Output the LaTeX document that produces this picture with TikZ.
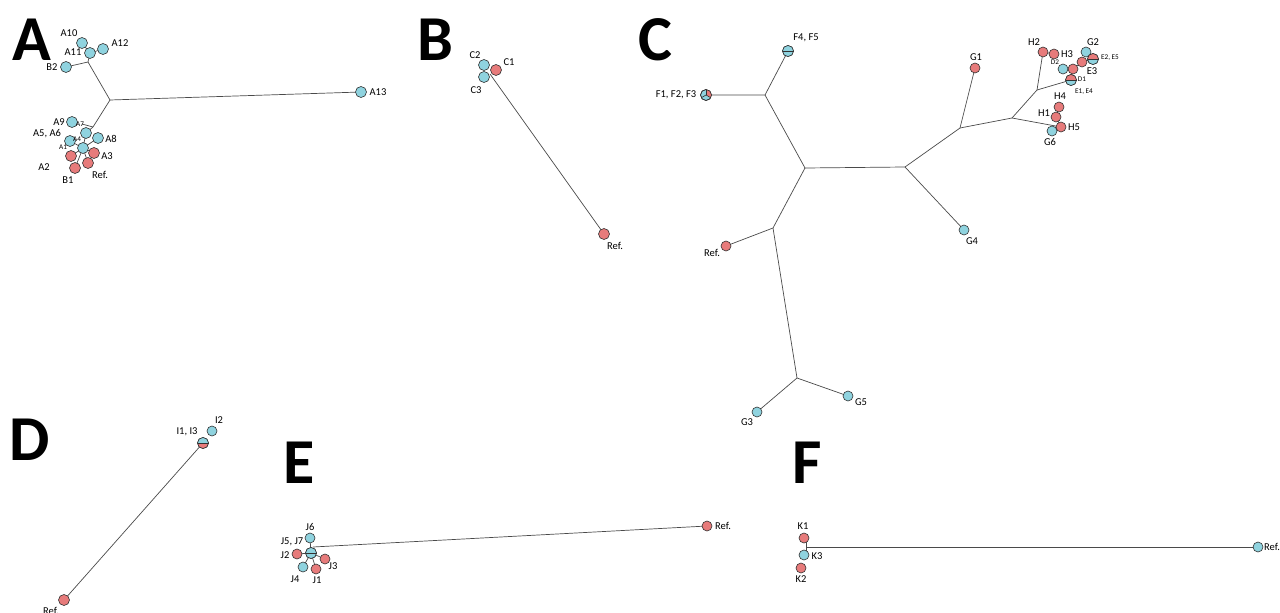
\documentclass[tikz,border=0pt]{standalone}
\usepackage{fontspec}
\setmainfont{Carlito}
\usetikzlibrary{backgrounds,calc}
\definecolor{nblue}{HTML}{8FD3DF}
\definecolor{nred}{HTML}{E77B7B}
\definecolor{edgec}{HTML}{4A4A4A}
\tikzset{
  bnode/.style={circle,draw=black!80,line width=0.6pt,fill=nblue,minimum size=11pt,inner sep=0pt},
  rnode/.style={bnode,fill=nred},
  snode/.style={bnode,minimum size=10pt},
  srnode/.style={rnode,minimum size=10pt},
  lbl/.style={font=\fontsize{10.5}{11}\selectfont,inner sep=0pt},
  slbl/.style={font=\fontsize{7.2}{8}\selectfont,inner sep=0pt},
  panel/.style={font=\fontsize{64}{64}\selectfont\bfseries,inner sep=0pt},
  edge/.style={draw=edgec,line width=0.7pt}
}
\newcommand{\halfsplit}[4]{% name, top colour, bottom colour, radius
  \begin{scope}
    \clip (#1) circle[radius=#4];
    \fill[#2] ($(#1)+(-8,-8)$) rectangle ($(#1)+(8,0)$);
    \fill[#3] ($(#1)+(-8,0)$) rectangle ($(#1)+(8,8)$);
  \end{scope}
  \draw[black!80,line width=0.6pt] ($(#1)+(-#4,0)$) -- ($(#1)+(#4,0)$);
  \draw[black!80,line width=0.6pt] (#1) circle[radius=#4];
}
\begin{document}
\begin{tikzpicture}[x=1pt,y=-1pt]
\useasboundingbox (0,0) rectangle (1280,613);
\begin{scope}[on background layer]
\fill[white] (0,0) rectangle (1280,613);
\end{scope}

% ---------- panel letters
\node[panel] (pA) at (32,40) {A};
\node[panel] (pB) at (435,40) {B};
\node[panel] (pC) at (655,40) {C};
\node[panel] (pD) at (30,440) {D};
\node[panel] (pE) at (299,463) {E};
\node[panel] (pF) at (807,463) {F};

% ---------- Panel A
\coordinate (jA1) at (88,62);
\coordinate (jA) at (110,100);
\coordinate (jA2) at (93,127);
\coordinate (jA7) at (82,124);
\node[bnode] (a10) at (82,43) {};
\node[bnode] (a12) at (103,49) {};
\node[bnode] (a11) at (90,53) {};
\node[bnode] (b2) at (66,67) {};
\node[bnode] (a13) at (361,92) {};
\node[bnode] (a9) at (72,122) {};
\node[bnode] (a56) at (70,141) {};
\node[bnode] (a8) at (98,138) {};
\node[bnode] (a4) at (86,133) {};
\node[rnode] (a2) at (71,156) {};
\node[rnode] (a3) at (94,153) {};
\node[rnode] (b1) at (75,168) {};
\node[rnode] (refA) at (88,163) {};
\node[bnode] (a1) at (83,148) {};
\begin{scope}[on background layer]
  \draw[edge] (jA1) -- (a11.center);
  \draw[edge] (a11.center) -- (a10.center);
  \draw[edge] (a11.center) -- (a12.center);
  \draw[edge] (jA1) -- (b2.center);
  \draw[edge] (jA1) -- (jA) -- (a13.center);
  \draw[edge] (jA) -- (jA2) -- (a4.center) -- (a1.center);
  \draw[edge] (jA2) -- (jA7);
  \draw[edge] (a1.center) -- (a2.center);
  \draw[edge] (a1.center) -- (a3.center);
  \draw[edge] (a1.center) -- (b1.center);
  \draw[edge] (a1.center) -- (refA.center);
  \draw[edge] (a1.center) -- (a8.center);
  \draw[edge] (a1.center) -- (a56.center);
\end{scope}
\node[lbl] (la10) at (69,33) {A10};
\node[lbl] (la11) at (73,52) {A11};
\node[lbl] (la12) at (120,43) {A12};
\node[lbl] (lb2) at (52,67) {B2};
\node[lbl] (la13) at (378,92) {A13};
\node[lbl] (la9) at (59,122) {A9};
\node[slbl] (la7) at (80,124) {A7};
\node[lbl] (la56) at (47,134) {A5, A6};
\node[slbl] (la4) at (77,139) {A4};
\node[slbl] (la1) at (63,147) {A1};
\node[lbl] (la8) at (111,139) {A8};
\node[lbl] (la3) at (107,156) {A3};
\node[lbl] (la2) at (44,167) {A2};
\node[lbl] (lb1) at (68,180) {B1};
\node[lbl] (lrefA) at (100,175) {Ref.};

% ---------- Panel B
\node[rnode] (c1) at (496,70) {};
\node[bnode] (c2) at (484,65) {};
\node[bnode] (c3) at (484,77) {};
\node[rnode] (refB) at (604,234) {};
\begin{scope}[on background layer]
  \draw[edge] (490,74) -- (refB.center);
\end{scope}
\node[lbl] (lc2) at (475,55) {C2};
\node[lbl] (lc1) at (509,62) {C1};
\node[lbl] (lc3) at (476,90) {C3};
\node[lbl] (lrefB) at (615,246) {Ref.};

% ---------- Panel C
\coordinate (j1) at (765,95);
\coordinate (jm) at (805,168);
\coordinate (jr) at (905,167);
\coordinate (jl) at (773,228);
\coordinate (jg) at (797,378);
\coordinate (j2) at (960,128);
\coordinate (j3) at (1012,118);
\coordinate (j4) at (1037,90);
\node[bnode] (f123) at (706,95) {};
\node[bnode] (f45) at (788,51) {};
\node[srnode] (refC) at (726,246) {};
\node[snode] (g3) at (757,412) {};
\node[snode] (g5) at (848,396) {};
\node[snode] (g4) at (964,230) {};
\node[srnode] (g1) at (975,68) {};
\node[srnode] (h2) at (1043,52) {};
\node[srnode] (h3) at (1054,54) {};
\node[snode] (d2) at (1063,69) {};
\node[srnode] (e3a) at (1073,69) {};
\node[srnode] (e3b) at (1082,62) {};
\node[snode] (g2) at (1086,52) {};
\node[bnode] (e25) at (1093,59) {};
\node[bnode] (d1) at (1071,80) {};
\node[srnode] (h4) at (1059,107) {};
\node[srnode] (h1) at (1056,117) {};
\node[snode] (g6) at (1052,131) {};
\node[srnode] (h5) at (1061,127) {};
\begin{scope}[on background layer]
  \draw[edge] (f123.center) -- (j1) -- (f45.center);
  \draw[edge] (j1) -- (jm) -- (jr);
  \draw[edge] (jm) -- (jl) -- (refC.center);
  \draw[edge] (jl) -- (jg);
  \draw[edge] (jg) -- (g3.center);
  \draw[edge] (jg) -- (g5.center);
  \draw[edge] (jr) -- (g4.center);
  \draw[edge] (jr) -- (j2) -- (g1.center);
  \draw[edge] (j2) -- (j3) -- (j4) -- (h2.center);
  \draw[edge] (j4) -- (d1.center);
  \draw[edge] (j3) -- (h5.center);
  \draw[edge] (h2.center) -- (h3.center);
  \draw[edge] (d1.center) -- (e3a.center) -- (e3b.center) -- (e25.center);
  \draw[edge] (e3a.center) -- (d2.center);
  \draw[edge] (e25.center) -- (g2.center);
  \draw[edge] (h5.center) -- (h1.center) -- (h4.center);
  \draw[edge] (h5.center) -- (g6.center);
\end{scope}
% pie F1,F2,F3
\begin{scope}
  \clip (f123.center) circle[radius=5.5];
  \fill[nred] (f123.center) -- ++(0,-8) -- ++(8,0) -- ++(0,12.6) -- cycle;
\end{scope}
\draw[black!80,line width=0.6pt] (f123.center) -- ++(0,-5.5);
\draw[black!80,line width=0.6pt] (f123.center) -- ++(4.76,2.75);
\draw[black!80,line width=0.6pt] (f123.center) -- ++(-4.76,2.75);
\draw[black!80,line width=0.6pt] (f123.center) circle[radius=5.5];
\halfsplit{f45.center}{nblue}{nblue}{5.5}
\halfsplit{e25.center}{nred}{nblue}{5.5}
\halfsplit{d1.center}{nred}{nblue}{5.5}
\node[lbl] (lf45) at (806,38) {F4, F5};
\node[lbl] (lf123) at (676,95) {F1, F2, F3};
\node[lbl] (lrefC) at (712,253) {Ref.};
\node[lbl] (lg3) at (747,422) {G3};
\node[lbl] (lg5) at (861,402) {G5};
\node[lbl] (lg4) at (972,241) {G4};
\node[lbl] (lg1) at (976,57) {G1};
\node[lbl] (lh2) at (1034,42) {H2};
\node[lbl] (lh3) at (1067,54) {H3};
\node[slbl] (ld2) at (1055,62) {D2};
\node[lbl] (lg2) at (1093,42) {G2};
\node[slbl] (le25) at (1110,58) {E2, E5};
\node[lbl] (le3) at (1092,71) {E3};
\node[slbl] (ld1) at (1082,79) {D1};
\node[slbl] (le14) at (1084,92) {E1, E4};
\node[lbl] (lh4) at (1060,96) {H4};
\node[lbl] (lh1) at (1044,113) {H1};
\node[lbl] (lh5) at (1074,127) {H5};
\node[lbl] (lg6) at (1050,142) {G6};

% ---------- Panel D
\node[snode] (i2) at (212,431) {};
\node[bnode] (i13) at (203,443) {};
\node[rnode] (refD) at (64,600) {};
\begin{scope}[on background layer]
  \draw[edge] (i13.center) -- (refD.center);
\end{scope}
\halfsplit{i13.center}{nblue}{nred}{5.5}
\node[lbl] (li13) at (187,432) {I1, I3};
\node[lbl] (li2) at (219,420) {I2};
\node[lbl] (lrefD) at (51,611) {Ref.};

% ---------- Panel E
\node[snode] (j6) at (310,538) {};
\node[srnode] (j2n) at (297,554) {};
\node[srnode] (j3n) at (325,559) {};
\node[snode] (j4n) at (303,567) {};
\node[srnode] (j1n) at (316,569) {};
\node[bnode] (j57) at (311,553) {};
\node[srnode] (refE) at (707,526) {};
\begin{scope}[on background layer]
  \draw[edge] (313,547) -- (refE.center);
  \draw[edge] (j57.center) -- (j6.center);
  \draw[edge] (j57.center) -- (j2n.center);
  \draw[edge] (j57.center) -- (j3n.center);
  \draw[edge] (j57.center) -- (j4n.center);
  \draw[edge] (j57.center) -- (j1n.center);
\end{scope}
\halfsplit{j57.center}{nblue}{nblue}{5.5}
\node[lbl] (lj6) at (310,527) {J6};
\node[lbl] (lj57) at (292,542) {J5, J7};
\node[lbl] (lj2) at (285,555) {J2};
\node[lbl] (lj3) at (333,566) {J3};
\node[lbl] (lj4) at (295,579) {J4};
\node[lbl] (lj1) at (317,580) {J1};
\node[lbl] (lrefE) at (723,526) {Ref.};

% ---------- Panel F
\node[srnode] (k1) at (804,538) {};
\node[snode] (k3) at (804,555) {};
\node[srnode] (k2) at (801,568) {};
\node[snode] (refF) at (1258,547) {};
\begin{scope}[on background layer]
  \draw[edge] (806,538) -- (806,555);
  \draw[edge] (806,547) -- (refF.center);
\end{scope}
\node[lbl] (lk1) at (803,526) {K1};
\node[lbl] (lk3) at (817,556) {K3};
\node[lbl] (lk2) at (801,579) {K2};
\node[lbl] (lrefF) at (1272,547) {Ref.};
\end{tikzpicture}
\end{document}
